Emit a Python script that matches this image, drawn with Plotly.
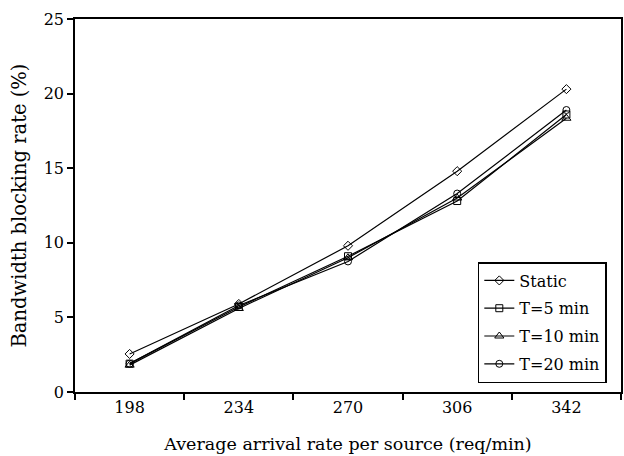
import plotly.graph_objects as go

categories = ["198", "234", "270", "306", "342"]
static = [2.55, 5.9, 9.8, 14.8, 20.3]
t5 = [1.9, 5.7, 9.1, 12.8, 18.6]
t10 = [1.8, 5.6, 9.0, 13.0, 18.35]
t20 = [1.9, 5.8, 8.75, 13.3, 18.9]
series_names = ["Static", "T=5 min", "T=10 min", "T=20 min"]
yticks = [0, 5, 10, 15, 20, 25]

symbols = ["diamond-open", "square-open", "triangle-up-open", "circle-open"]
sizes = [7, 7, 8, 7]

fig = go.Figure()
for i, (name, vals, sym, sz) in enumerate(zip(series_names, [static, t5, t10, t20], symbols, sizes)):
    fig.add_trace(go.Scatter(
        x=categories, y=vals, name=name, mode="lines+markers", legendgroup=f"g{i}",
        line=dict(color="black", width=1.2),
        marker=dict(symbol=sym, size=sz, color="black", line=dict(color="black", width=1)),
    ))

FAM = "DejaVu Serif"
tickf = dict(family=FAM, size=16, color="black")
xtitlef = dict(family=FAM, size=17.5, color="black")
ytitlef = dict(family=FAM, size=19.5, color="black")
legf = dict(family=FAM, size=16, color="black")

fig.update_layout(
    width=624, height=456,
    margin=dict(l=75, r=1, t=19, b=64),
    paper_bgcolor="white", plot_bgcolor="white",
    font=tickf,
    showlegend=True,
    legend=dict(
        x=0.974, y=0.3485, xanchor="right", yanchor="top",
        bordercolor="black", borderwidth=1.5, bgcolor="white",
        font=legf, tracegroupgap=4, itemwidth=30,
    ),
)
fig.update_xaxes(
    type="category", range=[-0.5, 4.5], tickson="boundaries",
    showline=True, linecolor="black", linewidth=1.5, mirror=True,
    ticks="outside", ticklen=6, tickcolor="black", tickwidth=1.5,
    showgrid=False, zeroline=False,
    title=dict(text="Average arrival rate per source (req/min)", font=xtitlef, standoff=22),
    tickfont=tickf,
)
fig.update_yaxes(
    range=[0, 25], tickvals=yticks,
    showline=True, linecolor="black", linewidth=1.5, mirror=True,
    ticks="outside", ticklen=6, tickcolor="black", tickwidth=1.5,
    showgrid=False, zeroline=False,
    title=dict(text="Bandwidth blocking rate (%)", font=ytitlef, standoff=12),
    tickfont=tickf,
)

fig.write_html("out.html")
